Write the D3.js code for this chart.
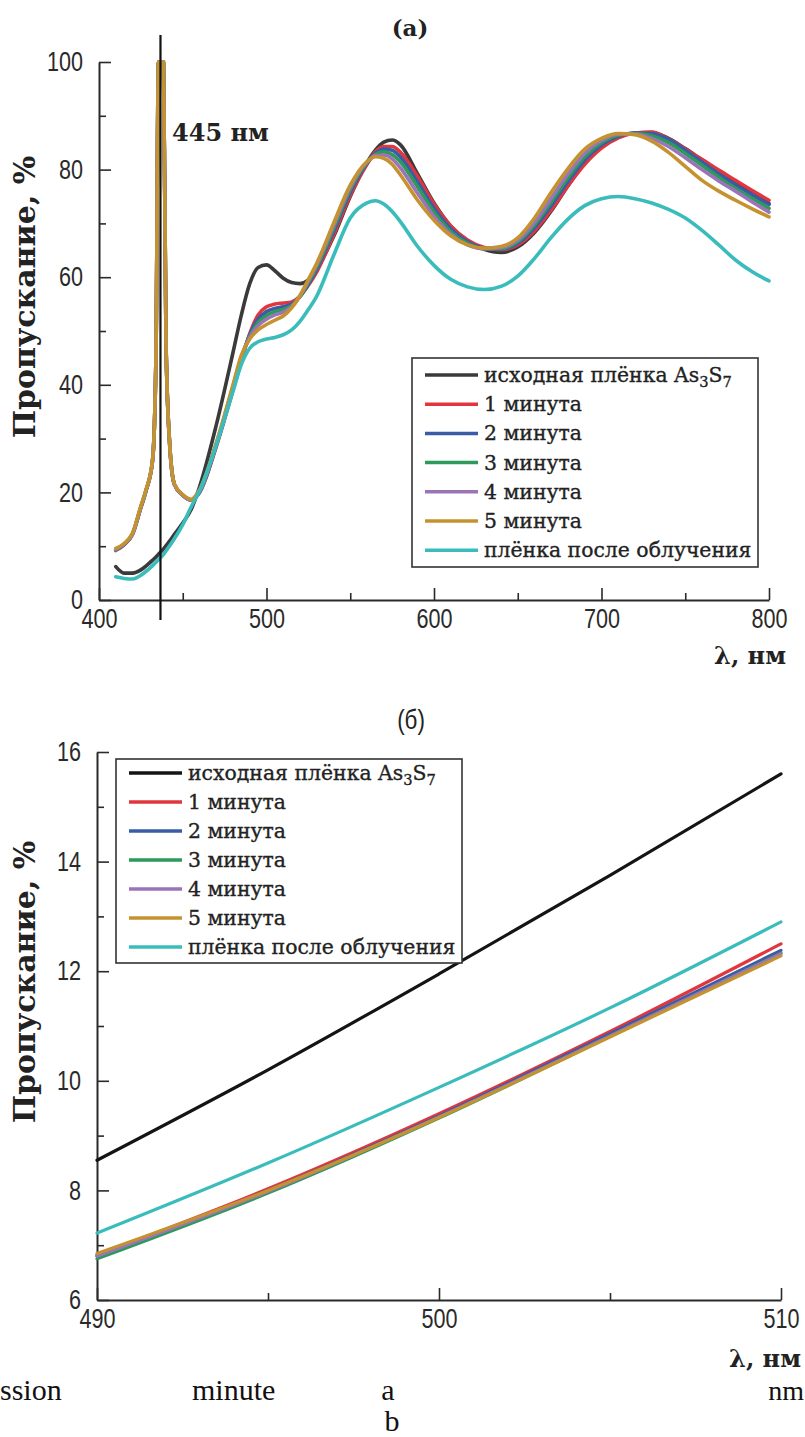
<!DOCTYPE html>
<html>
<head>
<meta charset="utf-8">
<script src="https://cdn.jsdelivr.net/npm/d3@7"></script>
<style>
  body { margin: 0; background: #fff; }
  svg { display: block; }
</style>
</head>
<body>
<div id="chart"></div>
<script>
// ---- data: panel (a), full spectrum ----
var wlA = [410,415,420,425,428,432,434,435.5,438.5,440,442,445,450,455,460,470,480,485,490,495,
           500,505,510,515,520,525,530,540,550,560,565,570,575,580,590,600,610,620,630,640,
           650,660,670,680,690,700,710,720,730,740,750,760,770,780,790,800];

var blackA  = [6.2,5.0,5.0,5.6,6.3,7.4,8.0,8.5,9.5,10.1,10.9,12.2,14.3,16.8,21,32.5,46,53,58.8,61.8,
               62.3,61.2,59.8,59,58.8,59.5,61.5,67.5,75,81.3,83.6,85.1,85.5,84.6,79.3,73.8,69.5,66.8,65.2,64.6,
               65.6,68.3,72.3,77,81.3,84.2,86,86.8,86.9,85.8,83.9,81.8,79.7,77.6,75.6,73.7];
var min1A   = [9.2,10.3,12.2,17.2,20.2,26,45,100,100,48,30,21.5,19.5,18.6,20,28.5,39,44.5,49.5,53,
               54.5,55,55.2,55.4,56.5,58.5,61,67.8,75.2,81,83.3,84.3,84.3,83.2,78.8,73.6,69.5,66.9,65.5,65.1,
               66,68.6,72.5,77,81,84,85.9,86.8,87,85.7,83.8,81.9,79.9,78,76.1,74.3];
var min2A   = [9.3,10.3,12.2,17.2,20.2,26,45,100,100,48,30,21.5,19.5,18.6,20,28.7,39.3,44.8,49.3,52.2,
               53.6,54.2,54.5,55,56.4,58.7,61.5,68.5,75.8,81.2,83,83.8,83.6,82.3,77.8,72.8,69,66.6,65.4,65.2,
               66.3,69.2,73.3,77.8,81.8,84.6,86.2,86.8,86.7,85.6,83.6,81.4,79.2,77.2,75.3,73.5];
var min3A   = [9.3,10.4,12.3,17.3,20.3,26,45,100,100,48,30,21.5,19.5,18.6,20.1,28.8,39.5,45,49,51.6,
               52.9,53.6,54,54.7,56.4,59,61.9,69,76.3,81.3,82.8,83.3,82.8,81.4,76.9,72.1,68.5,66.3,65.3,65.3,
               66.6,69.7,74,78.5,82.4,85,86.4,86.7,86.3,85,83,80.8,78.6,76.5,74.6,72.8];
var min4A   = [9.4,10.4,12.3,17.3,20.3,26,45,100,100,48,30,21.5,19.5,18.6,20.2,29,39.7,45.2,48.8,51,
               52.2,53,53.5,54.5,56.5,59.3,62.3,69.5,76.7,81.4,82.6,82.7,82,80.3,75.7,71.3,68,66,65.3,65.5,
               66.9,70.2,74.7,79.2,83,85.4,86.6,86.6,85.8,84.3,82.2,80,77.9,76,74,72.1];
var min5A   = [9.6,10.5,12.4,17.5,20.4,26.2,45,100,100,48,30,21.6,19.6,18.7,20.5,29.2,40,45.5,48.5,50.2,
               51.2,52,52.8,54.3,56.6,59.6,62.6,70,77.1,81.5,82.4,82.1,81,79,74.4,70.6,67.7,66,65.4,65.7,
               67.3,71,75.8,80.2,83.8,85.8,86.7,86.5,85.3,83.2,80.6,78,76,74.3,72.7,71.2];
var afterA  = [4.3,4.0,3.9,4.6,5.3,6.4,7.0,7.5,8.5,9.1,10.0,11.4,14,17.3,20.3,28.8,38.8,43.8,46.8,48,
               48.5,48.8,49.3,50.2,51.8,54,56.5,64,71,73.8,74.2,73.6,72.2,70.3,65.8,62.2,59.6,58.2,57.7,58.3,
               60.2,63.5,67.4,70.8,73.3,74.6,75,74.6,73.8,72.6,71,68.7,66,63.2,61,59.3];

// ---- data: panel (б), zoom 490-510 nm ----
var wlB     = [490,495,500,505,510];
var blackB  = [8.55,10.2,11.95,13.75,15.6];
var min1B   = [6.82,8.03,9.40,10.90,12.50];
var min2B   = [6.80,8.00,9.36,10.86,12.38];
var min3B   = [6.75,7.95,9.32,10.81,12.33];
var min4B   = [6.80,7.98,9.34,10.82,12.32];
var min5B   = [6.85,8.00,9.33,10.80,12.28];
var afterB  = [7.22,8.50,9.88,11.33,12.90];

var names  = ["исходная плёнка As_3S_7","1 минута","2 минута","3 минута","4 минута","5 минута","плёнка после облучения"];
var colors = ["#3a3a3a","#e2363e","#3a5ca8","#2b9a5a","#9b74b8","#c49330","#3bbcbc"];

var xTicksA = [400,500,600,700,800], xMinorA = [450,550,650,750];
var yTicksA = [0,20,40,60,80,100],   yMinorA = [10,30,50,70,90];
var xTicksB = [490,500,510],         xMinorB = [495,505];
var yTicksB = [6,8,10,12,14,16],     yMinorB = [7,9,11,13,15];
var markerWl = 436.7;

var W = 805, H = 1437;
var serif = "'DejaVu Serif', 'Liberation Serif', serif";
var sans = "'Liberation Sans', Arial, sans-serif";
var squeeze = 0.8; // tick font is a narrow grotesque

var svg = d3.select('#chart').append('svg')
  .attr('width', W).attr('height', H)
  .style('background', '#fff');

function addLabel(txt, str) {
  // "_n" marks a subscript digit
  var parts = str.split(/_(\d)/);
  var down = false;
  parts.forEach(function(p, i) {
    if (!p) return;
    var t = txt.append('tspan').text(p);
    if (i % 2 == 1) { t.attr('dy', 5).attr('font-size', '0.72em'); down = true; }
    else if (down) { t.attr('dy', -5); down = false; }
  });
}

function narrowText(sel) {
  sel.each(function() {
    var t = d3.select(this);
    var x = +t.attr('x') || 0;
    t.attr('x', x / squeeze).attr('transform', 'scale(' + squeeze + ',1)');
  });
}

function panel(cfg) {
  var g = svg.append('g');
  var x = cfg.x, y = cfg.y;
  var x0 = x.range()[0], y0 = y.range()[0];

  function styleAxis(a) {
    a.attr('font-family', sans).attr('font-size', 27).attr('color', '#2a2a2a');
    a.selectAll('.domain').attr('stroke-width', 2);
    a.selectAll('.tick line').attr('stroke-width', 1.6);
    a.selectAll('.tick text').attr('fill', '#2a2a2a').call(narrowText);
  }

  // minor ticks first
  g.append('g').attr('transform', 'translate(0,' + y0 + ')')
    .call(d3.axisBottom(x).tickValues(cfg.xMinor).tickSize(-7).tickSizeOuter(0).tickFormat(''))
    .call(function(a) { a.select('.domain').remove(); styleAxis(a); });
  g.append('g').attr('transform', 'translate(' + x0 + ',0)')
    .call(d3.axisLeft(y).tickValues(cfg.yMinor).tickSize(-7).tickSizeOuter(0).tickFormat(''))
    .call(function(a) { a.select('.domain').remove(); styleAxis(a); });

  g.append('g').attr('transform', 'translate(0,' + y0 + ')')
    .call(d3.axisBottom(x).tickValues(cfg.xTicks).tickSize(-12).tickSizeOuter(0).tickPadding(9).tickFormat(d3.format('d')))
    .call(styleAxis);
  g.append('g').attr('transform', 'translate(' + x0 + ',0)')
    .call(d3.axisLeft(y).tickValues(cfg.yTicks).tickSize(-12).tickSizeOuter(0).tickPadding(16).tickFormat(d3.format('d')))
    .call(styleAxis);

  var line = d3.line()
    .x(function(d) { return x(d[0]); })
    .y(function(d) { return y(d[1]); })
    .curve(d3.curveMonotoneX);

  cfg.series.forEach(function(vals, i) {
    var pts = cfg.wl.map(function(w, j) { return [w, vals[j]]; });
    g.append('path')
      .datum(pts)
      .attr('d', line)
      .attr('fill', 'none')
      .attr('stroke', cfg.colors[i])
      .attr('stroke-width', cfg.lw)
      .attr('stroke-linejoin', 'round')
      .attr('stroke-linecap', 'round');
  });

  // y title
  g.append('text')
    .attr('transform', 'translate(35,' + cfg.yTitleY + ') rotate(-90)')
    .attr('text-anchor', 'middle')
    .attr('font-family', serif).attr('font-size', 30).attr('font-weight', 'bold')
    .attr('fill', '#222')
    .text('Пропускание, %');

  // x title
  g.append('text')
    .attr('x', cfg.xTitleX).attr('y', cfg.xTitleY)
    .attr('text-anchor', 'end')
    .attr('font-family', serif).attr('font-size', 24).attr('font-weight', 'bold')
    .attr('fill', '#222')
    .text('λ, нм');

  // legend
  var L = cfg.legend;
  var lg = g.append('g').attr('transform', 'translate(' + L.x + ',' + L.y + ')');
  lg.append('rect')
    .attr('width', L.w).attr('height', L.h)
    .attr('fill', '#fff').attr('stroke', '#333').attr('stroke-width', 1.6);
  names.forEach(function(n, i) {
    var ry = L.top + i * L.step;
    lg.append('line')
      .attr('x1', 13).attr('x2', 66).attr('y1', ry).attr('y2', ry)
      .attr('stroke', cfg.colors[i]).attr('stroke-width', 3.5);
    var t = lg.append('text')
      .attr('x', 72).attr('y', ry + 7)
      .attr('font-family', serif).attr('font-size', 20.4)
      .attr('fill', '#222').attr('stroke', '#222').attr('stroke-width', 0.35);
    addLabel(t, n);
  });
  return g;
}

// ---- panel (a) ----
var xA = d3.scaleLinear().domain([400, 800]).range([99, 769]);
var yA = d3.scaleLinear().domain([0, 100]).range([600, 62]);

svg.append('text')
  .attr('x', 410).attr('y', 36).attr('text-anchor', 'middle')
  .attr('font-family', serif).attr('font-size', 23).attr('font-weight', 'bold').attr('fill', '#222')
  .text('(а)');

var gA = panel({
  x: xA, y: yA, wl: wlA,
  series: [blackA, min1A, min2A, min3A, min4A, min5A, afterA],
  colors: colors, lw: 3.6,
  xTicks: xTicksA, xMinor: xMinorA, yTicks: yTicksA, yMinor: yMinorA,
  yTitleY: 297, xTitleX: 786, xTitleY: 664,
  legend: { x: 412, y: 358, w: 346, h: 209, top: 17, step: 29.2 }
});

// 445 nm marker line
gA.append('line')
  .attr('x1', xA(markerWl)).attr('x2', xA(markerWl))
  .attr('y1', yA(105)).attr('y2', yA(-3.7))
  .attr('stroke', '#111').attr('stroke-width', 2.2);
gA.append('text')
  .attr('x', 172).attr('y', 141)
  .attr('font-family', serif).attr('font-size', 24).attr('font-weight', 'bold').attr('fill', '#222')
  .text('445 нм');

// ---- panel (б) ----
var xB = d3.scaleLinear().domain([490, 510]).range([97, 781]);
var yB = d3.scaleLinear().domain([6, 16]).range([1300, 752]);

svg.append('text')
  .attr('x', 411 / squeeze).attr('y', 729).attr('text-anchor', 'middle')
  .attr('transform', 'scale(' + squeeze + ',1)')
  .attr('font-family', sans).attr('font-size', 28).attr('fill', '#222')
  .text('(б)');

panel({
  x: xB, y: yB, wl: wlB,
  series: [blackB, min1B, min2B, min3B, min4B, min5B, afterB],
  colors: ["#141414"].concat(colors.slice(1)), lw: 3.2,
  xTicks: xTicksB, xMinor: xMinorB, yTicks: yTicksB, yMinor: yMinorB,
  yTitleY: 982, xTitleX: 801, xTitleY: 1367,
  legend: { x: 116, y: 759, w: 346, h: 204, top: 14, step: 29 }
});

// stray caption fragments at the bottom of the page
var cap = svg.append('g')
  .attr('font-family', "'Liberation Serif', 'Times New Roman', serif")
  .attr('font-size', 30).attr('fill', '#111');
cap.append('text').attr('x', 0).attr('y', 1400).text('ssion');
cap.append('text').attr('x', 192).attr('y', 1400).text('minute');
cap.append('text').attr('x', 388).attr('y', 1400).attr('text-anchor', 'middle').text('a');
cap.append('text').attr('x', 804).attr('y', 1400).attr('text-anchor', 'end').attr('font-size', 28).text('nm');
cap.append('text').attr('x', 392).attr('y', 1431).attr('text-anchor', 'middle').text('b');
</script>
</body>
</html>
